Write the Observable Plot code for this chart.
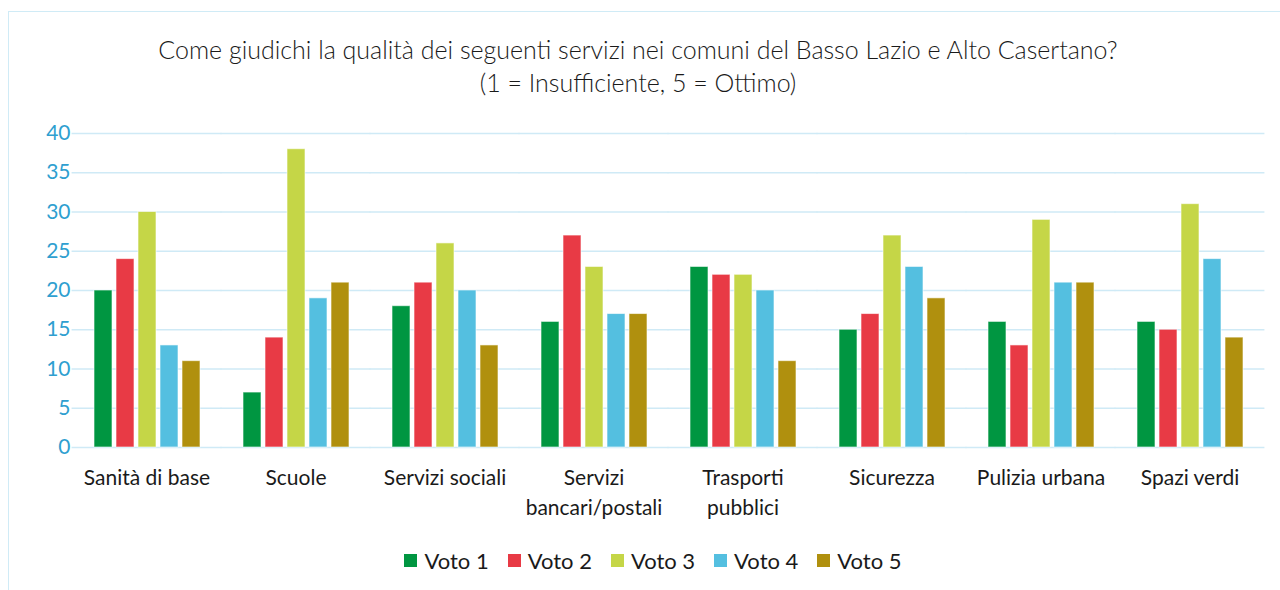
<!DOCTYPE html>
<html>
<head>
<meta charset="utf-8">
<script src="https://cdn.jsdelivr.net/npm/d3@7"></script>
<script src="https://cdn.jsdelivr.net/npm/@observablehq/plot@0.6"></script>
<style>
  html, body { margin: 0; padding: 0; background: #fff; }
  body { width: 1280px; height: 590px; overflow: hidden; position: relative; font-family: Lato, "Open Sans", sans-serif; }
  #frame { position: absolute; left: 8px; top: 11px; width: 1400px; height: 700px; border: 1.5px solid #d0ebf6; box-sizing: border-box; }
  #title { position: absolute; left: 0; width: 1276px; top: 33px; text-align: center; font-size: 25px; font-weight: 300; line-height: 33px; color: #1a1a1a; }
  #chart { position: absolute; left: 0; top: 110px; }
  #legend { position: absolute; left: 0; width: 1306px; top: 547px; display: flex; justify-content: center; gap: 19px; font-size: 22px; color: #1a1a1a; }
  .item { display: flex; align-items: center; gap: 7px; }
  .sw { width: 13px; height: 13px; display: inline-block; }
</style>
</head>
<body>
<div id="frame"></div>
<div id="title">Come giudichi la qualità dei seguenti servizi nei comuni del Basso Lazio e Alto Casertano?<br>(1 = Insufficiente, 5 = Ottimo)</div>
<div id="chart"></div>
<div id="legend"></div>
<script>
const categories = ["Sanità di base", "Scuole", "Servizi sociali", "Servizi\nbancari/postali", "Trasporti\npubblici", "Sicurezza", "Pulizia urbana", "Spazi verdi"];
const seriesNames = ["Voto 1", "Voto 2", "Voto 3", "Voto 4", "Voto 5"];
const seriesColors = ["#009641", "#e83a45", "#c5d647", "#54bfe0", "#b0900e"];
const voto1 = [20, 7, 18, 16, 23, 15, 16, 16];
const voto2 = [24, 14, 21, 27, 22, 17, 13, 15];
const voto3 = [30, 38, 26, 23, 22, 27, 29, 31];
const voto4 = [13, 19, 20, 17, 20, 23, 21, 24];
const voto5 = [11, 21, 13, 17, 11, 19, 21, 14];
const yTicks = [0, 5, 10, 15, 20, 25, 30, 35, 40];

const seriesValues = [voto1, voto2, voto3, voto4, voto5];
const data = [];
categories.forEach((c, i) => {
  seriesNames.forEach((s, j) => {
    data.push({category: c, series: s, value: seriesValues[j][i]});
  });
});

const W = 1280, ML = 72, MR = 16, PIN = 0.27, POUT = 0.135;
const step = (W - ML - MR) / (categories.length - PIN + 2 * POUT);
const halfGap = step * PIN / 2 + 0.3;

const chart = Plot.plot({
  width: W,
  height: 420,
  marginTop: 23,
  marginBottom: 83,
  marginLeft: ML,
  marginRight: MR,
  style: {fontFamily: "Lato, 'Open Sans', sans-serif", fontSize: "22px", background: "transparent", overflow: "visible"},
  fx: {domain: categories, paddingInner: PIN, paddingOuter: POUT, label: null},
  x: {domain: seriesNames, paddingInner: 0.2, paddingOuter: 0, axis: null},
  y: {domain: [0, 40], label: null},
  color: {domain: seriesNames, range: seriesColors},
  marks: [
    Plot.ruleY(yTicks, {stroke: "#cfeaf6", strokeWidth: 1.5, insetLeft: -halfGap, insetRight: -halfGap}),
    Plot.axisY(yTicks, {tickSize: 0, tickPadding: 22, fill: "#2f9fd0", fontSize: 21, label: null}),
    Plot.axisFx({anchor: "bottom", tickSize: 0, tickPadding: 17, fill: "#1a1a1a", fontSize: 21, lineHeight: 1.4, label: null}),
    Plot.barY(data, {fx: "category", x: "series", y: "value", fill: "series", stroke: "white", strokeOpacity: 0.6, strokeWidth: 1})
  ]
});
document.getElementById("chart").appendChild(chart);

const legend = document.getElementById("legend");
seriesNames.forEach((s, j) => {
  const it = document.createElement("div");
  it.className = "item";
  const sw = document.createElement("span");
  sw.className = "sw";
  sw.style.background = seriesColors[j];
  const tx = document.createElement("span");
  tx.textContent = s;
  it.appendChild(sw);
  it.appendChild(tx);
  legend.appendChild(it);
});
</script>
</body>
</html>
